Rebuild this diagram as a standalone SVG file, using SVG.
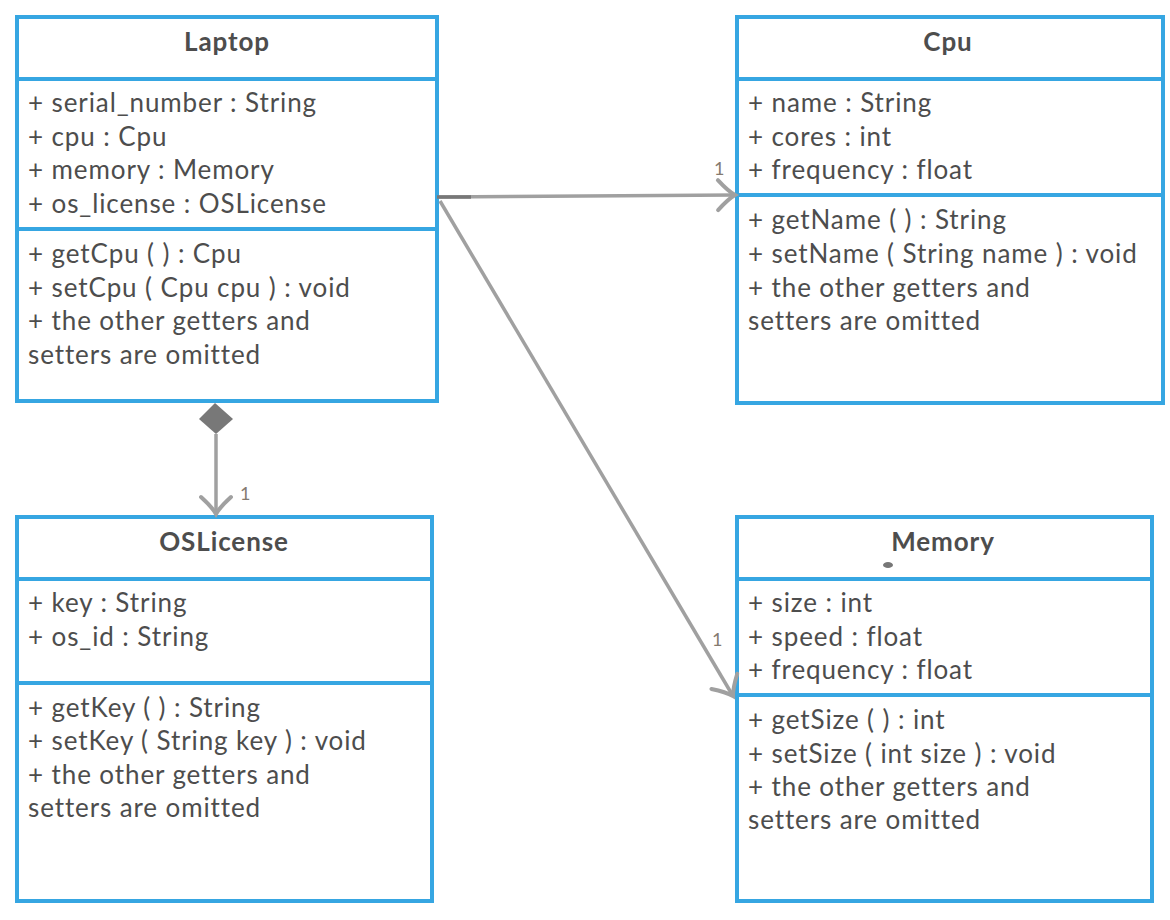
<svg xmlns="http://www.w3.org/2000/svg" width="1170" height="920" viewBox="0 0 1170 920">
<style>
.box{fill:#fff;stroke:#36a6e2;stroke-width:4}
.sep{stroke:#36a6e2;stroke-width:4}
.t{font-family:Lato,"Noto Sans",sans-serif;font-size:26px;letter-spacing:0.9px;fill:#4d4d4d}
.h{font-family:Lato,"Noto Sans",sans-serif;font-size:26px;letter-spacing:0.9px;font-weight:bold;fill:#4d4d4d;text-anchor:middle}
.c{fill:none;stroke:#a0a0a0;stroke-width:3.5}
.m{font-family:Lato,"Noto Sans",sans-serif;font-size:18px;fill:#857a70}
</style>
<defs>
<marker id="open" markerUnits="userSpaceOnUse" markerWidth="40" markerHeight="40" viewBox="-20 -20 40 40" refX="0" refY="0" orient="auto">
<path d="M-17,-15 Q-7,-4 0,0 Q-7,4 -17,15" fill="none" stroke="#a0a0a0" stroke-width="4" stroke-linecap="round"/>
</marker>
</defs>
<g id="Laptop">
<rect class="box" x="17" y="17" width="420" height="384"/>
<line class="sep" x1="17" y1="79" x2="437" y2="79"/>
<line class="sep" x1="17" y1="229" x2="437" y2="229"/>
<text class="h" x="227" y="51">Laptop</text>
<text class="t" x="28" y="112">+ serial_number : String</text>
<text class="t" x="28" y="146">+ cpu : Cpu</text>
<text class="t" x="28" y="179">+ memory : Memory</text>
<text class="t" x="28" y="213">+ os_license : OSLicense</text>
<text class="t" x="28" y="263">+ getCpu ( ) : Cpu</text>
<text class="t" x="28" y="297">+ setCpu ( Cpu cpu ) : void</text>
<text class="t" x="28" y="330">+ the other getters and</text>
<text class="t" x="28" y="364">setters are omitted</text>
</g>
<g id="Cpu">
<rect class="box" x="737" y="17" width="426" height="386"/>
<line class="sep" x1="737" y1="79" x2="1163" y2="79"/>
<line class="sep" x1="737" y1="195" x2="1163" y2="195"/>
<text class="h" x="948" y="51">Cpu</text>
<text class="t" x="748" y="112">+ name : String</text>
<text class="t" x="748" y="146">+ cores : int</text>
<text class="t" x="748" y="179">+ frequency : float</text>
<text class="t" x="748" y="229">+ getName ( ) : String</text>
<text class="t" x="748" y="263">+ setName ( String name ) : void</text>
<text class="t" x="748" y="297">+ the other getters and</text>
<text class="t" x="748" y="330">setters are omitted</text>
</g>
<g id="OSLicense">
<rect class="box" x="17" y="517" width="415" height="384"/>
<line class="sep" x1="17" y1="579" x2="432" y2="579"/>
<line class="sep" x1="17" y1="683" x2="432" y2="683"/>
<text class="h" x="224" y="551">OSLicense</text>
<text class="t" x="28" y="612">+ key : String</text>
<text class="t" x="28" y="646">+ os_id : String</text>
<text class="t" x="28" y="717">+ getKey ( ) : String</text>
<text class="t" x="28" y="750">+ setKey ( String key ) : void</text>
<text class="t" x="28" y="784">+ the other getters and</text>
<text class="t" x="28" y="817">setters are omitted</text>
</g>
<g id="Memory">
<rect class="box" x="737" y="517" width="415" height="384"/>
<line class="sep" x1="737" y1="579" x2="1152" y2="579"/>
<line class="sep" x1="737" y1="695" x2="1152" y2="695"/>
<text class="h" x="943" y="551">Memory</text>
<ellipse cx="888" cy="565" rx="5" ry="3" fill="#777"/>
<text class="t" x="748" y="612">+ size : int</text>
<text class="t" x="748" y="646">+ speed : float</text>
<text class="t" x="748" y="679">+ frequency : float</text>
<text class="t" x="748" y="729">+ getSize ( ) : int</text>
<text class="t" x="748" y="763">+ setSize ( int size ) : void</text>
<text class="t" x="748" y="796">+ the other getters and</text>
<text class="t" x="748" y="829">setters are omitted</text>
</g>
<g id="connectors">
<line class="c" x1="439" y1="197" x2="735" y2="195" marker-end="url(#open)"/>
<line x1="437" y1="197" x2="471" y2="197" stroke="#777" stroke-width="3.5"/>
<line class="c" x1="440" y1="201" x2="733" y2="696" marker-end="url(#open)"/>
<line class="c" x1="216" y1="434" x2="216" y2="514" marker-end="url(#open)"/>
<polygon points="215,403 233,419 216,434 199,419" fill="#787878"/>
<text class="m" x="714" y="175">1</text>
<text class="m" x="712" y="646">1</text>
<text class="m" x="240" y="500">1</text>
</g>
</svg>
